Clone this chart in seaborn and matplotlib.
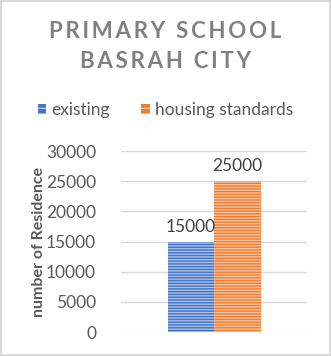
import pandas as pd
import matplotlib
matplotlib.use("Agg")
import matplotlib.pyplot as plt
import seaborn as sns

# chart data
categories = ["existing", "housing standards"]
values = [15000, 25000]
yticks = [0, 5000, 10000, 15000, 20000, 25000, 30000]
title_lines = ["PRIMARY SCHOOL", "BASRAH CITY"]

colors = {"existing": "#4472C4", "housing standards": "#ED7D31"}
stripes = {"existing": "#A9C0EA", "housing standards": "#F8C3A0"}

df = pd.DataFrame({"group": [""] * len(categories), "kind": categories, "value": values})

sns.set_style("white")
plt.rcParams["font.family"] = ["Lato", "DejaVu Sans"]
plt.rcParams["hatch.linewidth"] = 1.0

fig = plt.figure(figsize=(3.31, 3.56), dpi=100)
fig.patch.set_edgecolor("#D9D9D9")
fig.patch.set_linewidth(1.5)
ax = fig.add_axes([0.3656, 0.0674, 0.562, 0.5084])

sns.barplot(data=df, x="group", y="value", hue="kind", palette=colors,
            width=0.5, ax=ax, legend=False, saturation=1)

for bar, kind in zip(ax.patches, categories):
    bar.set_edgecolor(stripes[kind])
    bar.set_hatch("------")
    bar.set_linewidth(0)

for cont in ax.containers:
    ax.bar_label(cont, fmt="%d", padding=5, fontsize=12.5, color="#404040")

ax.set_ylim(0, 30000)
ax.set_xlim(-0.5, 0.5)
ax.set_yticks(yticks)
ax.set_yticklabels([str(t) for t in yticks])
ax.yaxis.grid(True, color="#D9D9D9", linewidth=1)
ax.set_axisbelow(True)
for s in ax.spines.values():
    s.set_visible(False)
ax.tick_params(axis="y", length=0, pad=18, labelsize=12.5, labelcolor="#595959")
ax.set_xticks([])
ax.set_xlabel("")
ax.set_ylabel("number of Residence", fontsize=11.5, fontweight="bold",
              color="#595959", labelpad=0)

sp = "\u2009"
for i, line in enumerate(title_lines):
    fig.text(0.5, 1 - (32 + 30 * i) / 356, sp.join(line), ha="center", va="center",
             fontsize=16, fontweight="bold", color="#808080")

# legend
handles = [plt.Rectangle((0, 0), 1, 1, facecolor=colors[k], edgecolor=stripes[k],
                         hatch="---", linewidth=0) for k in categories]
fig.legend(handles, categories, loc="center", bbox_to_anchor=(0.5, 1 - 110 / 356),
           ncol=2, frameon=False, fontsize=12.5, labelcolor="#595959",
           handlelength=0.5, handleheight=0.5, handletextpad=0.3, columnspacing=1.8)

fig.savefig("out.png", dpi=100)
